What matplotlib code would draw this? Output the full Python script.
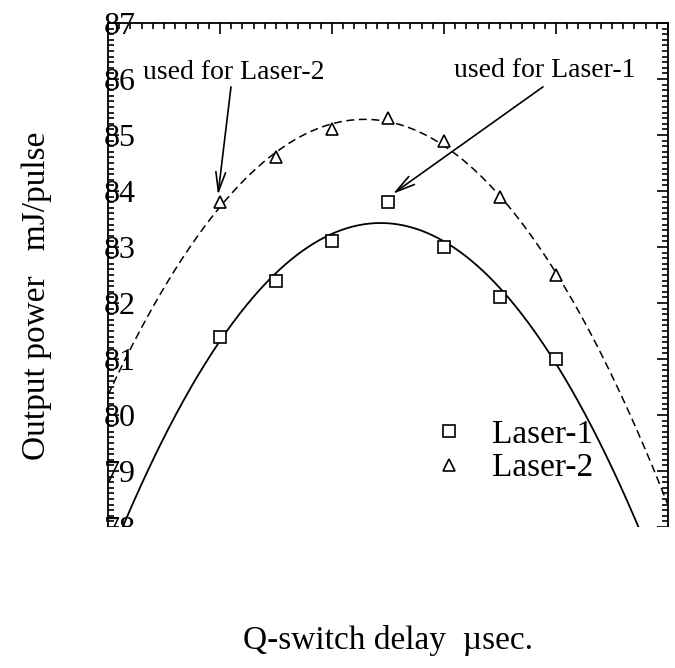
import numpy as np
import matplotlib
matplotlib.use('Agg')
import matplotlib.pyplot as plt
from matplotlib.patches import Rectangle
from matplotlib.ticker import MultipleLocator

# Q-switch delay (usec) and output power (mJ/pulse)
delay = [150, 175, 200, 225, 250, 275, 300]
laser1 = [81.4, 82.4, 83.1, 83.8, 83.0, 82.1, 81.0]
laser2 = [83.8, 84.6, 85.1, 85.3, 84.9, 83.9, 82.5]
y_ticks = [78, 79, 80, 81, 82, 83, 84, 85, 86, 87]

plt.rcParams['font.family'] = ['Liberation Serif', 'DejaVu Serif']

fig = plt.figure(figsize=(6.75, 6.68), dpi=100)
ax = fig.add_axes([108 / 675, 1 - 527 / 668, 560 / 675, 504 / 668])

# quadratic fits drawn as the curves
xs = np.linspace(100, 350, 400)
fit1 = np.polyval(np.polyfit(delay, laser1, 2), xs)
fit2 = np.polyval(np.polyfit(delay, laser2, 2), xs)
ax.plot(xs, fit1, color='black', lw=1.3)
ax.plot(xs, fit2, color='black', lw=1.1, linestyle=(0, (5.2, 3.0)))

ax.plot(delay, laser1, linestyle='none', marker='s', ms=8, mfc='white',
        mec='black', mew=1.2, label='Laser-1', zorder=3)
ax.plot(delay, laser2, linestyle='none', marker='^', ms=9, mfc='white',
        mec='black', mew=1.2, label='Laser-2', zorder=3)

ax.set_xlim(100, 350)
ax.set_ylim(78, 87)

# annotations
ax.text(156.3, 86.12, 'used for Laser-2', fontsize=20, ha='center', va='center')
ax.text(295.1, 86.16, 'used for Laser-1', fontsize=20, ha='center', va='center')
arrow = dict(arrowstyle='->,head_length=1.4,head_width=0.35', color='black',
             lw=1.2, shrinkA=0, shrinkB=0)
ax.annotate('', xy=(149.1, 83.93), xytext=(154.9, 85.86), arrowprops=arrow)
ax.annotate('', xy=(227.2, 83.95), xytext=(294.2, 85.86), arrowprops=arrow)

# axes styling
ax.spines['bottom'].set_visible(False)
for s in ['top', 'left', 'right']:
    ax.spines[s].set_linewidth(1.3)
ax.xaxis.set_ticks_position('top')
ax.xaxis.set_major_locator(MultipleLocator(50))
ax.xaxis.set_minor_locator(MultipleLocator(5))
ax.tick_params(axis='x', which='both', direction='in', labeltop=False,
               labelbottom=False, width=1.2)
ax.tick_params(axis='x', which='major', length=8)
ax.tick_params(axis='x', which='minor', length=4.5)

ax.set_yticks(y_ticks)
ax.set_yticklabels([str(v) for v in y_ticks], fontsize=23)
ax.yaxis.set_minor_locator(MultipleLocator(0.1))
ax.tick_params(axis='y', which='both', direction='in', left=True, right=True,
               width=1.2, pad=3)
ax.tick_params(axis='y', which='major', length=8)
ax.tick_params(axis='y', which='minor', length=4.5)
for lbl in ax.get_yticklabels():
    lbl.set_horizontalalignment('left')

ax.legend(loc='center left', bbox_to_anchor=(0.525, 0.150), frameon=False,
          fontsize=24, handlelength=1.0, handletextpad=0.8, labelspacing=0.08)

ax.set_ylabel('Output power   mJ/pulse', fontsize=24, va='center')
ax.yaxis.set_label_coords(-0.127, 0.459)
ax.xaxis.set_label_position('bottom')
ax.set_xlabel('Q-switch delay  \u00b5sec.', fontsize=24, va='center')
ax.xaxis.set_label_coords(0.5, (527 - 640) / 504)

# the original is cut off just below the plotting area
fig.patches.append(Rectangle((0, 1 - 560 / 668), 1, 33 / 668,
                             transform=fig.transFigure, facecolor='white',
                             edgecolor='none', zorder=10))

fig.savefig('out.png', dpi=100)
